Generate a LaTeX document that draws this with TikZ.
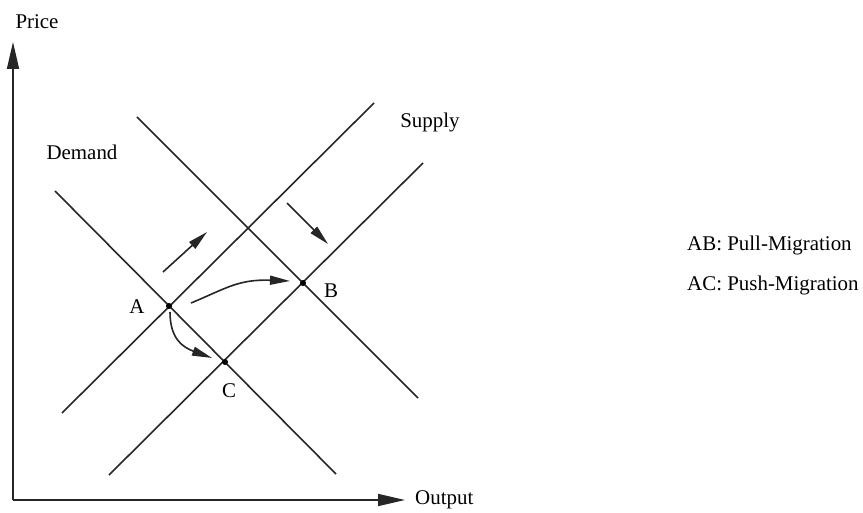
\documentclass[tikz,border=0pt]{standalone}
\usepackage{fontspec}
\setmainfont{Liberation Serif}
\usetikzlibrary{arrows.meta}
\begin{document}
\begin{tikzpicture}[x=1bp,y=-1bp,
  lbl/.style={font=\fontsize{21}{25}\selectfont, inner sep=0pt, text=black},
  curveline/.style={draw=black!85, line width=1.6bp},
  bigtip/.style={-{Triangle[length=27bp,width=12bp]}},
  smalltip/.style={-{Triangle[length=20bp,width=9bp]}},
  pt/.style={circle, fill=black, inner sep=0pt, minimum size=6bp}]
\useasboundingbox (0,0) rectangle (863,513);
% axes
\coordinate (O) at (13,500);
\coordinate (Ytip) at (13,42);
\coordinate (Xtip) at (405,500);
\draw[curveline,bigtip] (O) -- (Ytip);
\draw[curveline,bigtip] (O) -- (Xtip);
% demand and supply lines
\coordinate (D1a) at (55,191);  \coordinate (D1b) at (336,474);
\coordinate (D2a) at (137,117); \coordinate (D2b) at (418,398);
\coordinate (S1a) at (62,413);  \coordinate (S1b) at (374,103);
\coordinate (S2a) at (109,475); \coordinate (S2b) at (423,163);
\draw[curveline] (D1a) -- (D1b);
\draw[curveline] (D2a) -- (D2b);
\draw[curveline] (S1a) -- (S1b);
\draw[curveline] (S2a) -- (S2b);
% equilibrium points
\node[pt] (A) at (169,306) {};
\node[pt] (B) at (303,283) {};
\node[pt] (C) at (225,362) {};
% shift arrows
\coordinate (u1) at (163,272); \coordinate (u2) at (207,232);
\coordinate (d1) at (287,203); \coordinate (d2) at (328,244);
\draw[curveline,smalltip] (u1) -- (u2);
\draw[curveline,smalltip] (d1) -- (d2);
% migration arrows
\coordinate (ab1) at (191,303); \coordinate (ab2) at (290,281);
\coordinate (ac1) at (170,312); \coordinate (ac2) at (212,358);
\draw[curveline,smalltip] (ab1) .. controls (225,289) and (238,279) .. (ab2);
\draw[curveline,smalltip] (ac1) .. controls (170,338) and (182,347) .. (ac2);
% labels
\node[lbl] (price) at (37,22) {Price};
\node[lbl] (demand) at (82,152) {Demand};
\node[lbl] (supply) at (430,123) {Supply};
\node[lbl,anchor=west] (output) at (415,500) {Output};
\node[lbl] (la) at (137,307) {A};
\node[lbl] (lb) at (331,291) {B};
\node[lbl] (lc) at (229,391) {C};
\node[lbl,anchor=west] (ab) at (687,246) {AB: Pull-Migration};
\node[lbl,anchor=west] (ac) at (687,285) {AC: Push-Migration};
\end{tikzpicture}
\end{document}
